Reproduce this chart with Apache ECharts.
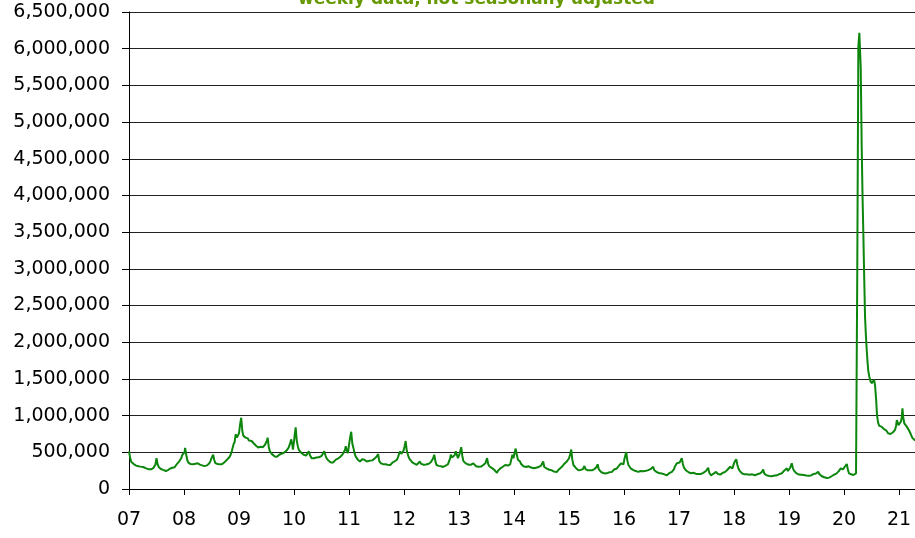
<!DOCTYPE html>
<html>
<head>
<meta charset="utf-8">
<script src="https://cdn.jsdelivr.net/npm/echarts@6/dist/echarts.min.js"></script>
<style>
  html, body { margin: 0; padding: 0; background: #fff; }
  #chart { width: 915px; height: 538px; }
</style>
</head>
<body>
<div id="chart"></div>
<script>
// weekly initial claims, thousands; each pair is [fraction of year, value]
const y2007 = [[0,513],[.02,430],[.04,370],[.06,352],[.08,345],[.10,330],[.12,322],[.15,300],[.17,310],[.19,296],[.21,305],[.24,318],[.26,300],[.28,292],[.30,285],[.33,278],[.35,270],[.37,280],[.40,268],[.42,276],[.44,285],[.46,292],[.48,330],[.50,420],[.52,338],[.54,300],[.56,292],[.58,272],[.60,266],[.62,260],[.64,252],[.67,246],[.69,243],[.71,258],[.73,272],[.75,280],[.77,270],[.79,290],[.81,300],[.83,296],[.85,318],[.87,340],[.89,345],[.91,374],[.93,370],[.95,420],[.97,467],[.99,450]]
const y2008 = [[.01,500],[.02,560],[.04,470],[.06,392],[.08,360],[.10,352],[.12,340],[.15,332],[.17,338],[.19,322],[.21,345],[.23,330],[.25,350],[.27,326],[.29,332],[.31,315],[.33,322],[.35,326],[.37,312],[.40,330],[.42,322],[.44,340],[.46,352],[.48,380],[.50,420],[.53,467],[.55,395],[.57,352],[.59,350],[.61,340],[.63,346],[.65,338],[.67,342],[.69,336],[.71,352],[.73,360],[.76,380],[.78,398],[.81,420],[.83,440],[.85,470],[.87,520],[.88,545],[.90,607],[.92,640],[.94,747],[.96,700],[.98,730]]
const y2009 = [[0,760],[.02,880],[.04,971],[.06,790],[.08,724],[.10,715],[.12,700],[.14,685],[.16,690],[.18,660],[.21,670],[.23,654],[.25,640],[.27,620],[.29,607],[.31,590],[.33,584],[.35,565],[.37,560],[.39,575],[.41,560],[.43,570],[.45,584],[.47,600],[.49,630],[.51,660],[.52,700],[.54,580],[.56,514],[.58,495],[.60,475],[.62,455],[.65,444],[.67,452],[.69,440],[.71,460],[.73,467],[.75,467],[.77,480],[.79,500],[.81,490],[.84,514],[.86,520],[.88,540],[.90,560],[.92,600],[.95,677],[.97,600],[.98,537]]
const y2010 = [[0,650],[.01,720],[.03,840],[.05,660],[.07,580],[.09,530],[.11,514],[.13,495],[.15,480],[.17,470],[.19,460],[.20,467],[.22,455],[.24,470],[.27,514],[.29,460],[.32,420],[.34,432],[.36,418],[.38,430],[.41,430],[.43,440],[.45,432],[.48,444],[.50,450],[.53,470],[.55,514],[.57,460],[.59,420],[.61,400],[.63,384],[.65,370],[.67,360],[.69,350],[.71,362],[.73,380],[.76,400],[.78,420],[.80,415],[.82,430],[.85,444],[.87,460],[.89,480],[.91,505],[.93,540],[.94,584],[.96,520],[.98,490]]
const y2011 = [[0,600],[.02,700],[.04,780],[.06,620],[.08,560],[.10,490],[.12,445],[.14,420],[.16,400],[.18,388],[.20,374],[.22,390],[.24,405],[.26,420],[.28,398],[.30,385],[.32,375],[.35,374],[.37,385],[.39,380],[.42,390],[.44,397],[.46,410],[.48,425],[.50,440],[.53,476],[.55,380],[.58,350],[.60,342],[.62,338],[.64,345],[.66,338],[.68,336],[.70,330],[.73,327],[.75,327],[.77,342],[.79,360],[.81,383],[.83,378],[.85,390],[.87,397],[.89,430],[.91,480],[.93,514],[.95,480],[.97,467],[.99,520]]
const y2012 = [[.01,580],[.03,654],[.05,520],[.08,444],[.10,410],[.12,390],[.15,362],[.17,350],[.19,345],[.21,336],[.23,330],[.26,327],[.29,374],[.31,342],[.33,336],[.36,330],[.38,327],[.40,335],[.42,340],[.45,345],[.47,350],[.49,368],[.51,390],[.53,420],[.55,467],[.57,380],[.59,327],[.61,320],[.63,315],[.65,306],[.67,310],[.69,303],[.71,300],[.73,310],[.76,320],[.78,313],[.80,340],[.82,380],[.84,420],[.85,467],[.87,430],[.90,420],[.92,460],[.94,514],[.96,470],[.98,420]]
const y2013 = [[.01,480],[.04,570],[.06,450],[.08,380],[.11,374],[.13,345],[.15,335],[.18,330],[.20,327],[.22,332],[.24,340],[.26,350],[.28,325],[.31,310],[.33,305],[.35,303],[.37,310],[.40,305],[.42,318],[.44,327],[.46,335],[.48,350],[.51,420],[.53,340],[.55,310],[.58,303],[.60,285],[.62,275],[.64,262],[.66,250],[.67,238],[.69,220],[.71,250],[.73,270],[.75,280],[.77,290],[.79,300],[.81,312],[.84,327],[.86,320],[.89,320],[.91,330],[.93,336],[.95,400],[.97,467],[.99,420]]
const y2014 = [[.01,490],[.03,551],[.05,470],[.07,400],[.09,380],[.11,374],[.13,340],[.15,320],[.17,310],[.20,303],[.22,300],[.24,296],[.26,310],[.29,303],[.31,292],[.33,286],[.36,282],[.38,280],[.40,290],[.42,295],[.45,300],[.47,303],[.49,318],[.51,340],[.53,374],[.55,300],[.57,282],[.59,280],[.61,270],[.64,262],[.66,257],[.68,257],[.70,245],[.72,240],[.75,236],[.78,233],[.80,250],[.82,270],[.84,290],[.87,303],[.89,320],[.91,340],[.93,360],[.96,374],[.98,400],[1.00,420]]
const y2015 = [[.02,470],[.04,537],[.06,400],[.08,327],[.10,300],[.12,290],[.14,280],[.17,257],[.19,265],[.21,260],[.23,257],[.25,270],[.28,313],[.30,270],[.32,257],[.34,255],[.36,250],[.38,257],[.40,248],[.42,255],[.44,257],[.46,270],[.48,285],[.50,300],[.52,336],[.54,270],[.56,245],[.58,233],[.60,225],[.62,218],[.64,214],[.66,212],[.68,210],[.70,218],[.72,225],[.74,230],[.76,228],[.78,233],[.80,250],[.82,265],[.85,275],[.87,280],[.89,300],[.91,320],[.93,330],[.95,350],[.97,340],[.99,336]]
const y2016 = [[.01,420],[.04,504],[.06,390],[.08,327],[.10,300],[.12,282],[.14,270],[.17,257],[.19,250],[.21,245],[.23,240],[.26,233],[.28,255],[.30,245],[.32,240],[.35,243],[.37,248],[.40,250],[.42,252],[.44,257],[.46,262],[.48,270],[.50,282],[.53,303],[.55,255],[.57,240],[.59,233],[.61,225],[.63,218],[.66,212],[.69,210],[.71,205],[.73,200],[.75,195],[.78,187],[.80,200],[.82,215],[.85,225],[.87,233],[.89,250],[.91,270],[.92,300],[.94,320],[.96,350],[.98,335],[.99,327]]
const y2017 = [[.01,360],[.03,390],[.05,420],[.07,340],[.09,290],[.11,280],[.13,252],[.15,238],[.18,225],[.20,210],[.22,215],[.24,210],[.26,222],[.29,210],[.31,206],[.33,212],[.35,205],[.38,210],[.40,206],[.42,214],[.44,220],[.47,233],[.49,245],[.51,262],[.53,290],[.55,222],[.58,187],[.60,195],[.62,205],[.65,220],[.67,233],[.69,212],[.71,205],[.73,200],[.75,196],[.77,210],[.79,218],[.82,225],[.84,233],[.86,240],[.88,262],[.91,280],[.93,303],[.95,290],[.97,280],[.99,330]]
const y2018 = [[.01,370],[.04,406],[.06,330],[.08,280],[.10,250],[.12,230],[.14,215],[.17,196],[.19,200],[.21,195],[.23,200],[.26,187],[.28,195],[.31,220],[.33,200],[.35,192],[.38,187],[.40,195],[.42,200],[.45,205],[.47,210],[.49,220],[.51,235],[.53,266],[.55,210],[.57,192],[.59,187],[.61,182],[.64,178],[.66,176],[.68,173],[.70,178],[.72,180],[.75,170],[.78,187],[.80,195],[.83,205],[.85,210],[.87,214],[.89,235],[.91,250],[.93,262],[.96,282],[.98,245],[1.00,236]]
const y2019 = [[.02,290],[.05,350],[.07,282],[.09,250],[.11,236],[.13,215],[.15,205],[.18,196],[.20,191],[.22,195],[.24,190],[.27,191],[.29,188],[.31,185],[.34,182],[.36,180],[.38,177],[.40,185],[.42,192],[.45,205],[.47,214],[.49,210],[.51,222],[.53,236],[.55,205],[.57,185],[.59,177],[.61,168],[.64,160],[.66,155],[.69,150],[.71,145],[.73,155],[.76,168],[.78,177],[.80,185],[.82,195],[.84,205],[.86,210],[.88,223],[.90,240],[.92,262],[.94,282],[.96,275],[.98,268]]
const y2020 = [[0,290],[.02,310],[.05,341],[.07,260],[.09,214],[.11,205],[.13,200],[.15,195],[.17,191],[.19,200],[.218,214],[.24,2920],[.26,6020],[.278,6215],[.303,5750],[.322,4620],[.336,4000],[.351,3480],[.366,2900],[.382,2340],[.40,2050],[.413,1890],[.428,1720],[.442,1600],[.46,1530],[.48,1470],[.504,1440],[.525,1460],[.545,1490],[.564,1410],[.585,1200],[.60,1000],[.62,900],[.64,860],[.66,880],[.68,850],[.70,865],[.72,820],[.745,827],[.765,800],[.785,810],[.80,760],[.82,782],[.845,750],[.867,736],[.885,770],[.905,790],[.927,805],[.945,860],[.96,940],[.976,918],[.99,870]]
const y2021 = [[.018,850],[.035,920],[.05,980],[.062,1100],[.075,980],[.096,895],[.115,870],[.14,850],[.16,830],[.18,800],[.20,770],[.22,759],[.24,700],[.26,690],[.275,700],[.29,660]]

const years = [2007, 2008, 2009, 2010, 2011, 2012, 2013, 2014, 2015, 2016, 2017, 2018, 2019, 2020, 2021]
const yearLabels = ['07', '08', '09', '10', '11', '12', '13', '14', '15', '16', '17', '18', '19', '20', '21']
const titleText = 'weekly data, not seasonally adjusted'

const byYear = [y2007, y2008, y2009, y2010, y2011, y2012, y2013, y2014, y2015, y2016, y2017, y2018, y2019, y2020, y2021]
const claims = byYear.flatMap((pts, i) => pts.map(([t, v]) => [years[i] + t, v * 1000]))

const chart = echarts.init(document.getElementById('chart'))
const font = 'DejaVu Sans'

chart.setOption({
  animation: false,
  title: {
    text: titleText,
    left: 298,
    top: -9,
    padding: 0,
    textStyle: { color: '#669900', fontSize: 17, fontWeight: 'bold', fontFamily: font },
  },
  grid: { left: 129, right: 0, top: 12, bottom: 49, outerBoundsMode: 'none' },
  xAxis: {
    type: 'value',
    min: 2007,
    max: 2021.29,
    interval: 1,
    axisLine: { lineStyle: { color: '#000', width: 1 } },
    axisTick: { length: 6, lineStyle: { color: '#000' }, customValues: years },
    axisLabel: {
      customValues: years,
      margin: 22,
      color: '#000',
      fontSize: 19,
      fontFamily: font,
      formatter: v => yearLabels[years.indexOf(Math.round(v))],
    },
    splitLine: { show: false },
  },
  yAxis: {
    type: 'value',
    min: 0,
    max: 6500000,
    interval: 500000,
    axisLine: { show: true, lineStyle: { color: '#000', width: 1 } },
    axisTick: { show: true, length: 7, lineStyle: { color: '#000' } },
    axisLabel: {
      margin: 19,
      color: '#000',
      fontSize: 19,
      fontFamily: font,
      formatter: v => v.toLocaleString('en-US'),
    },
    splitLine: { show: true, lineStyle: { color: '#222', width: 1 } },
  },
  series: [
    {
      type: 'line',
      data: claims,
      showSymbol: false,
      symbol: 'none',
      clip: true,
      lineStyle: { color: '#0c860c', width: 2 },
    },
  ],
})
</script>
</body>
</html>
